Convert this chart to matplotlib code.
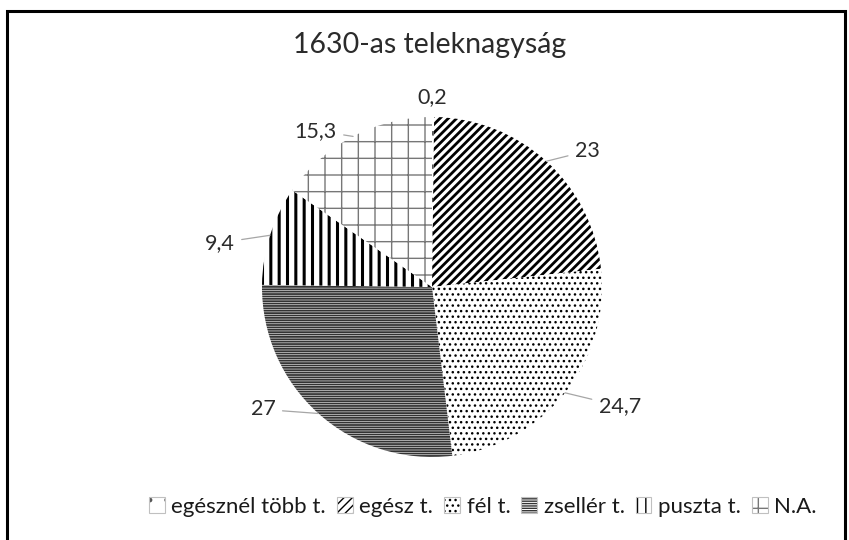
import numpy as np
import matplotlib
matplotlib.use("Agg")
import matplotlib.pyplot as plt
from matplotlib.patches import Rectangle

plt.rcParams['font.family'] = ['Lato', 'DejaVu Sans']

# data
categories = ['egésznél több t.', 'egész t.', 'fél t.', 'zsellér t.', 'puszta t.', 'N.A.']
values = [0.2, 23, 24.7, 27, 9.4, 15.3]
value_labels = ['0,2', '23', '24,7', '27', '9,4', '15,3']

hatches = ['.', '////', '...', '-------', '||', '+']
hatch_colors = ['#555555', 'black', 'black', '#333333', 'black', '#777777']
hatch_widths = [1.0, 2.0, 1.0, 1.3, 2.2, 1.0]

# label anchors (axes data units, pie radius = 1) and alignment
label_pos = [(0.0, 1.12), (0.84, 0.80), (0.98, -0.70), (-0.92, -0.72), (-1.16, 0.26), (-0.56, 0.92)]
label_ha = ['center', 'left', 'left', 'right', 'right', 'right']

W, H = 849, 540
fig = plt.figure(figsize=(W / 100, H / 100), dpi=100)
fig.patch.set_facecolor('white')

# outer frame
fig.patches.append(Rectangle((7 / W, -0.05), (845 - 7) / W, 1.05 - 11 / H,
                             transform=fig.transFigure, fill=False,
                             edgecolor='black', linewidth=2.2))

cx, cy, r = 432, 287, 170
ax = fig.add_axes([(cx - r) / W, (H - cy - r) / H, 2 * r / W, 2 * r / H])

wedges, _ = ax.pie(values, startangle=90, counterclock=False, radius=1,
                   wedgeprops=dict(linewidth=0, facecolor='white'))
for w, h, c, lw in zip(wedges, hatches, hatch_colors, hatch_widths):
    w.set_hatch(h)
    w.set_edgecolor(c)
    if hasattr(w, 'set_hatch_linewidth'):
        w.set_hatch_linewidth(lw)

ax.set_xlim(-1, 1)
ax.set_ylim(-1, 1)
ax.set_aspect('equal')
ax.axis('off')

txt_color = '#2b2b2b'

# value labels with leader lines
total = sum(values)
start = 90.0
for i, v in enumerate(values):
    span = 360.0 * v / total
    mid = np.deg2rad(start - span / 2)
    start -= span
    tx, ty = label_pos[i]
    if i == 0:
        ax.text(tx, ty, value_labels[i], ha='center', va='center', fontsize=15.5, color=txt_color)
        continue
    ex, ey = np.cos(mid), np.sin(mid)
    ax.annotate(value_labels[i], xy=(ex, ey), xytext=(tx, ty),
                ha=label_ha[i], va='center', fontsize=15.5, color=txt_color,
                annotation_clip=False,
                arrowprops=dict(arrowstyle='-', color='#a6a6a6', lw=0.9,
                                shrinkA=3, shrinkB=0))

fig.text(430 / W, 1 - 45 / H, '1630-as teleknagyság', ha='center', va='center',
         fontsize=20.5, color=txt_color)

# legend keys: hatched wedge plus thin grey box
handles = [(w, Rectangle((0, 0), 1, 1, facecolor='none', edgecolor='#c0c0c0', lw=0.8))
           for w in wedges]
fig.legend(handles, categories, loc='center', bbox_to_anchor=(483 / W, 1 - 507 / H),
           ncol=6, frameon=False, fontsize=16, handlelength=0.7, handleheight=0.7,
           handletextpad=0.3, columnspacing=0.5, labelcolor='#1a1a1a')

fig.savefig('out.png', dpi=100)
